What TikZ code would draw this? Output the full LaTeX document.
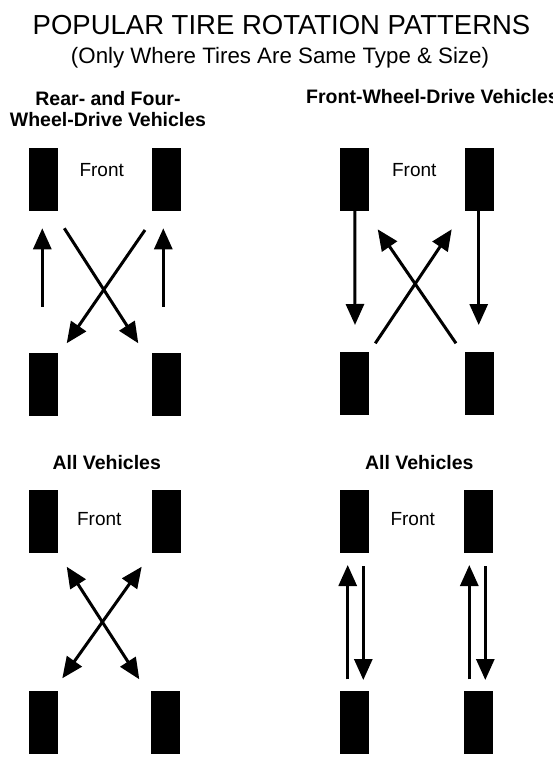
\documentclass[tikz,border=0pt]{standalone}
\usepackage{fontspec}
\setmainfont{Liberation Sans}
\usetikzlibrary{arrows.meta}
\tikzset{
  tire/.style={rectangle, fill=black, draw=none, minimum width=29pt, minimum height=63pt, inner sep=0pt},
  tiphead/.tip={Triangle[width=18pt 0 1,length=21pt 0 1]},
  rot/.style={line width=3pt, -tiphead},
  rotboth/.style={line width=3pt, tiphead-tiphead},
  lbl/.style={font=\fontsize{19.5}{22}\selectfont\bfseries, anchor=base, inner sep=0pt},
  frontlbl/.style={font=\fontsize{19}{22}\selectfont, anchor=base, inner sep=0pt},
}
\begin{document}
\begin{tikzpicture}[x=1pt,y=-1pt]
\useasboundingbox[fill=white] (0,0) rectangle (553,760);
% titles
\node[anchor=base, inner sep=0pt, font=\fontsize{27.5}{30}\selectfont] (title) at (281.5,35) {POPULAR TIRE ROTATION PATTERNS};
\node[anchor=base, inner sep=0pt, font=\fontsize{22.3}{25}\selectfont] (subtitle) at (280,63.3) {(Only Where Tires Are Same Type \& Size)};
% panel 1
\node[lbl] (h1a) at (108,105) {Rear- and Four-};
\node[lbl] (h1b) at (108,126.7) {Wheel-Drive Vehicles};
\node[frontlbl] (f1) at (101.7,176.7) {Front};
\node[tire] (p1fl) at (43.2,179.7) {};
\node[tire] (p1fr) at (166,179.7) {};
\node[tire] (p1rl) at (43.2,384.5) {};
\node[tire] (p1rr) at (166,384.5) {};
\coordinate (p1a1) at (42.3,306.7); \coordinate (p1a2) at (42.3,228.3);
\coordinate (p1b1) at (163.3,306.7); \coordinate (p1b2) at (163.3,228.3);
\coordinate (p1c1) at (64.3,228.3); \coordinate (p1c2) at (138.3,343.3);
\coordinate (p1d1) at (145,230); \coordinate (p1d2) at (66.7,343.3);
\draw[rot] (p1a1) -- (p1a2);
\draw[rot] (p1b1) -- (p1b2);
\draw[rot] (p1c1) -- (p1c2);
\draw[rot] (p1d1) -- (p1d2);
% panel 2
\node[lbl, anchor=base west] (h2) at (306,103.3) {Front-Wheel-Drive Vehicles};
\node[frontlbl] (f2) at (414.3,176.7) {Front};
\node[tire] (p2fl) at (354.8,179.7) {};
\node[tire] (p2fr) at (479.7,179.7) {};
\node[tire] (p2rl) at (354.8,383.8) {};
\node[tire] (p2rr) at (479.7,383.0) {};
\coordinate (p2a2) at (355,325);
\coordinate (p2b2) at (478.7,325);
\coordinate (p2c1) at (375.3,343.3); \coordinate (p2c2) at (451.7,229.3);
\coordinate (p2d1) at (456,343.3); \coordinate (p2d2) at (377.7,229.3);
\draw[rot] (p2fl.south) ++(0,-1) -- (p2a2);
\draw[rot] (p2fr.south) ++(-1,-1) -- (p2b2);
\draw[rot] (p2c1) -- (p2c2);
\draw[rot] (p2d1) -- (p2d2);
% panel 3
\node[lbl] (h3) at (106.7,469) {All Vehicles};
\node[frontlbl] (f3) at (99.3,525.7) {Front};
\node[tire] (p3fl) at (43.2,521.7) {};
\node[tire] (p3fr) at (166.3,521.7) {};
\node[tire] (p3rl) at (43.2,722.7) {};
\node[tire] (p3rr) at (165.5,722.7) {};
\coordinate (p3c1) at (66.7,566.7); \coordinate (p3c2) at (139.3,679.3);
\coordinate (p3d1) at (141.7,566.7); \coordinate (p3d2) at (62.3,678.3);
\draw[rotboth] (p3c1) -- (p3c2);
\draw[rotboth] (p3d1) -- (p3d2);
% panel 4
\node[lbl] (h4) at (419.3,469) {All Vehicles};
\node[frontlbl] (f4) at (412.7,525.7) {Front};
\node[tire] (p4fl) at (354.3,521) {};
\node[tire] (p4fr) at (478,521) {};
\node[tire] (p4rl) at (354.3,722.7) {};
\node[tire] (p4rr) at (478,722.7) {};
\coordinate (p4a1) at (347.7,679.3); \coordinate (p4a2) at (347.7,565);
\coordinate (p4b1) at (363.3,566); \coordinate (p4b2) at (363.3,680);
\coordinate (p4c1) at (469.3,679.3); \coordinate (p4c2) at (469.3,565);
\coordinate (p4d1) at (485.3,566); \coordinate (p4d2) at (485.3,680);
\draw[rot] (p4a1) -- (p4a2);
\draw[rot] (p4b1) -- (p4b2);
\draw[rot] (p4c1) -- (p4c2);
\draw[rot] (p4d1) -- (p4d2);
\end{tikzpicture}
\end{document}
